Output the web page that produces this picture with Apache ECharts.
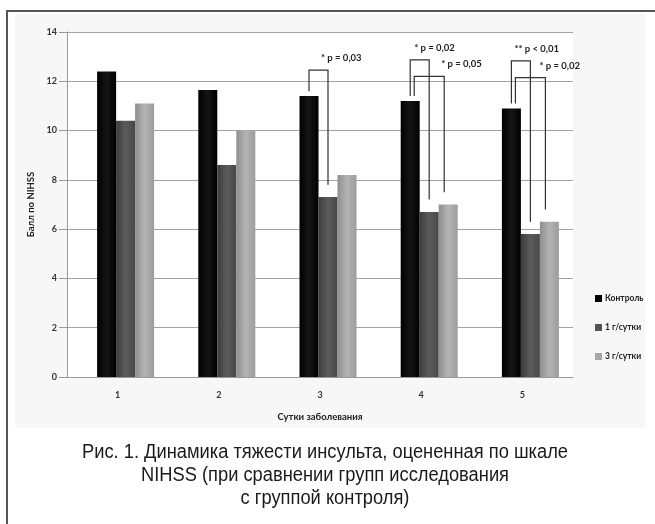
<!DOCTYPE html>
<html>
<head>
<meta charset="utf-8">
<script src="https://cdn.jsdelivr.net/npm/echarts@6/dist/echarts.min.js"></script>
<style>
  html, body { margin: 0; padding: 0; background: #ffffff; }
  #chart { width: 655px; height: 524px; }
</style>
</head>
<body>
<div id="chart"></div>
<script>
// ---- data ----
const categories = ['1', '2', '3', '4', '5'];
const seriesNames = ['Контроль', '1 г/сутки', '3 г/сутки'];
const control = [12.4, 11.65, 11.4, 11.2, 10.9];
const dose1 = [10.4, 8.6, 7.3, 6.7, 5.8];
const dose3 = [11.1, 10.0, 8.2, 7.0, 6.3];
const yMin = 0, yMax = 14, yStep = 2;
const xTitle = 'Сутки заболевания';
const yTitle = 'Балл по NIHSS';

// significance brackets (category index, compared series index, bracket level, label)
const bracketCategory = [2, 3, 3, 4, 4];
const bracketTo = [1, 1, 2, 1, 2];
const bracketLevel = [12.45, 12.87, 12.2, 12.83, 12.15];
const bracketLabel = ['* p = 0,03', '* p = 0,02', '* p = 0,05', '** p < 0,01', '* p = 0,02'];

const captionLines = [
  'Рис. 1. Динамика тяжести инсульта, оцененная по шкале',
  'NIHSS (при сравнении групп исследования',
  'с группой контроля)'
];

// ---- style (positions / sizes) ----
const BAR_W = 19, SPACER_W = 16;
const labelDx = [-7, -15, -3, -16, -6];
const FONT = 'Lato, "Open Sans", sans-serif';
const CAP_FONT_FAMILY = '"Liberation Sans", Arial, sans-serif';
const CAP_SIZE = 20;
const CAP_LINE1_WIDTH = 486;
const values = [control, dose1, dose3];

// horizontal condensing factor for the caption (narrow font look)
const mc = document.createElement('canvas').getContext('2d');
mc.font = CAP_SIZE + 'px ' + CAP_FONT_FAMILY;
const capScale = Math.min(1, CAP_LINE1_WIDTH / mc.measureText(captionLines[0]).width);

function grad(c1, c2, c3) {
  return new echarts.graphic.LinearGradient(0, 0, 1, 0, [
    { offset: 0, color: c1 }, { offset: 0.5, color: c2 }, { offset: 1, color: c3 }
  ]);
}
const barColors = [
  grad('#000000', '#151515', '#000000'),
  grad('#3c3c3c', '#5c5c5c', '#474747'),
  grad('#8e8e8e', '#b4b4b4', '#9c9c9c')
];
const legendColors = ['#000000', '#555555', '#a6a6a6'];

const chart = echarts.init(document.getElementById('chart'), null, { renderer: 'canvas' });

function barCenter(cx, s) {
  const G = SPACER_W + 3 * BAR_W;
  return cx - G / 2 + SPACER_W + BAR_W * (s + 0.5);
}

const series = [
  {
    name: '_spacer', type: 'bar', barWidth: SPACER_W, barGap: '0%', silent: true,
    data: categories.map(() => null), itemStyle: { color: 'rgba(0,0,0,0)' }
  }
].concat(seriesNames.map((n, s) => ({
  name: n, type: 'bar', barWidth: BAR_W, barGap: '0%',
  data: values[s],
  itemStyle: { color: barColors[s] }
}))).concat([{
  type: 'custom',
  silent: true,
  z: 10,
  data: bracketCategory.map((c, i) => [c, bracketLevel[i], i]),
  renderItem: function (params, api) {
    const i = api.value(2);
    const c = bracketCategory[i];
    const to = bracketTo[i];
    const cx = api.coord([c, 0])[0];
    const topY = api.coord([c, bracketLevel[i]])[1];
    const leftEndY = api.coord([c, control[c] + 0.2])[1];
    const rightEndY = api.coord([c, values[to][c] + 0.5])[1];
    let lx = barCenter(cx, 0), rx = barCenter(cx, to);
    if (to === 2) { lx += 4; rx -= 4; }
    return {
      type: 'group',
      children: [
        {
          type: 'polyline',
          shape: { points: [[lx, leftEndY], [lx, topY], [rx, topY], [rx, rightEndY]] },
          style: { stroke: '#333', lineWidth: 1.2, fill: null }
        },
        {
          type: 'text',
          style: {
            text: bracketLabel[i], x: rx + labelDx[i], y: topY - 12,
            fill: '#222', fontSize: 9.5, fontWeight: 'bold', fontFamily: FONT,
            align: 'left', verticalAlign: 'middle'
          }
        }
      ]
    };
  }
}]);

chart.setOption({
  animation: false,
  backgroundColor: '#ffffff',
  grid: { left: 67, right: 82, top: 32, bottom: 147, containLabel: false },
  legend: {
    data: seriesNames.map((n, s) => ({ name: n, itemStyle: { color: legendColors[s] } })),
    orient: 'vertical', left: 590, top: 289,
    itemWidth: 7, itemHeight: 7, itemGap: 20, icon: 'rect',
    textStyle: { fontSize: 8.5, fontWeight: 'bold', color: '#222', fontFamily: FONT, padding: [0, 0, 0, -2] }
  },
  xAxis: {
    type: 'category', data: categories,
    name: xTitle, nameLocation: 'middle', nameGap: 35,
    nameTextStyle: { fontSize: 9.5, fontWeight: 'bold', color: '#222', fontFamily: FONT },
    axisLine: { lineStyle: { color: '#9a9a9a', width: 1 } },
    axisTick: { show: false },
    axisLabel: { margin: 14, fontSize: 9, fontWeight: 'bold', color: '#333', fontFamily: FONT }
  },
  yAxis: {
    type: 'value', min: yMin, max: yMax, interval: yStep,
    name: yTitle, nameLocation: 'middle', nameGap: 31,
    nameTextStyle: { fontSize: 9.5, fontWeight: 'bold', color: '#222', fontFamily: FONT },
    axisLine: { show: true, lineStyle: { color: '#9a9a9a', width: 1 } },
    axisTick: { show: true, length: 8, lineStyle: { color: '#9a9a9a' } },
    splitLine: { lineStyle: { color: '#a3a3a3', width: 1 } },
    axisLabel: { margin: 10, fontSize: 9, fontWeight: 'bold', color: '#333', fontFamily: FONT }
  },
  graphic: [
    { type: 'rect', z: -100, shape: { x: 15, y: 14, width: 630, height: 414 }, style: { fill: '#f7f7f7' } },
    { type: 'rect', z: -99, shape: { x: 67, y: 32, width: 506, height: 345 }, style: { fill: '#ffffff' } },
    { type: 'rect', z: -98, shape: { x: 7, y: 11, width: 680, height: 560 }, style: { fill: null, stroke: '#555', lineWidth: 2 } }
  ].concat(captionLines.map((t, k) => ({
    type: 'text', z: 5, x: 325, y: 452 + 23 * k, scaleX: capScale,
    style: {
      text: t, fill: '#1a1a1a', fontSize: CAP_SIZE,
      fontFamily: CAP_FONT_FAMILY,
      align: 'center', verticalAlign: 'middle'
    }
  }))),
  series: series
});
</script>
</body>
</html>
